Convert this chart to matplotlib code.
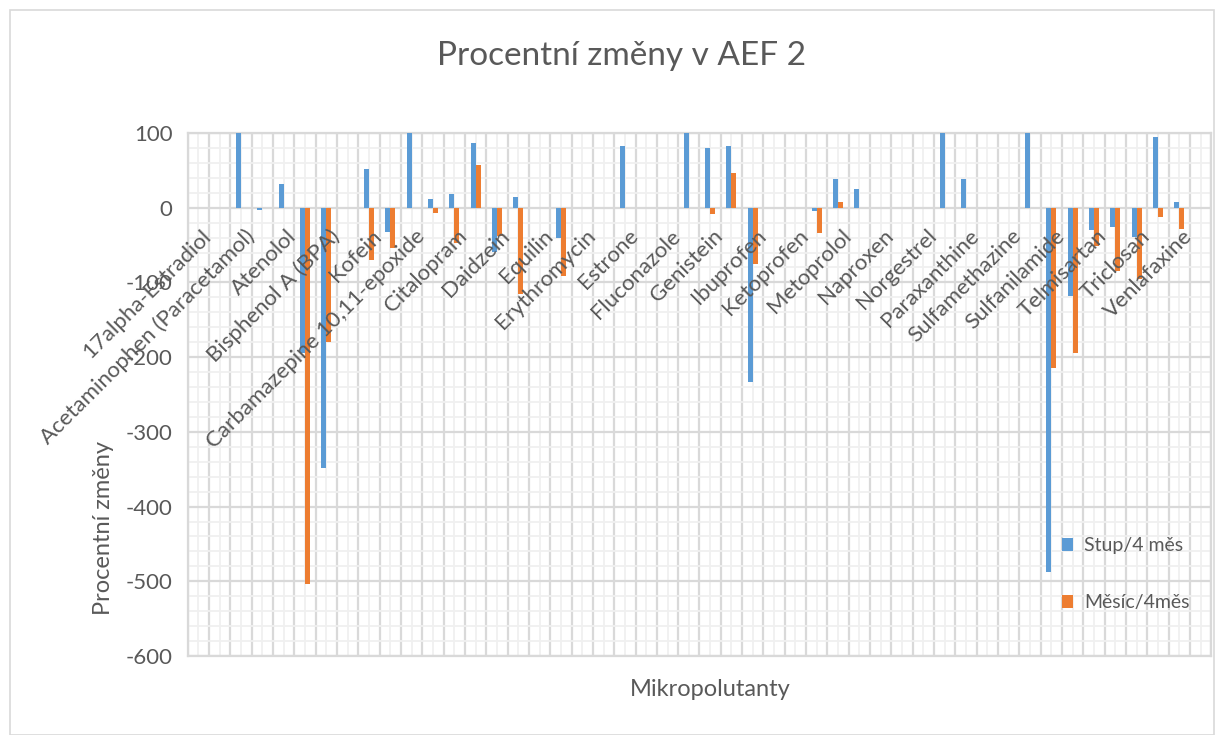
import numpy as np
import matplotlib
matplotlib.use("Agg")
import matplotlib.pyplot as plt
from matplotlib.patches import Rectangle

plt.rcParams['font.family'] = ['Lato', 'DejaVu Sans']
plt.rcParams['axes.unicode_minus'] = False

# visible category labels (Excel shows every second category)
labels = ['17alpha-Estradiol', 'Acetaminophen (Paracetamol)', 'Atenolol',
          'Bisphenol A (BPA)', 'Kofein', 'Carbamazepine 10,11-epoxide',
          'Citalopram', 'Daidzein', 'Equilin', 'Erythromycin', 'Estrone',
          'Fluconazole', 'Genistein', 'Ibuprofen', 'Ketoprofen', 'Metoprolol',
          'Naproxen', 'Norgestrel', 'Paraxanthine', 'Sulfamethazine',
          'Sulfanilamide', 'Telmisartan', 'Triclosan', 'Venlafaxine']
n_cat = 48
nan = np.nan

stup = [nan, nan, 100, -3, 32, -195, -348, nan, 52, -33,
        100, 11, 18, 87, -59, 15, nan, -40, nan, nan,
        82, nan, nan, 100, 80, 82, -233, nan, nan, -4,
        38, 25, nan, nan, nan, 100, 38, nan, nan, 100,
        -488, -118, -30, -26, -39, 95, 8, nan]
mesic = [nan, nan, nan, nan, nan, -503, -180, nan, -70, -54,
         nan, -7, -47, 57, -38, -115, nan, -91, nan, nan,
         nan, nan, nan, nan, -8, 47, -75, nan, nan, -34,
         7, nan, nan, nan, nan, nan, nan, nan, nan, nan,
         -214, -194, -51, -85, -95, -12, -28, nan]

txt = '#595959'
W, H = 1223, 735
fig = plt.figure(figsize=(W / 100, H / 100), dpi=100)
fig.patches.append(Rectangle((10 / W, 0), 1204 / W, 725 / H, transform=fig.transFigure,
                             fill=False, edgecolor='#d9d9d9', lw=1.2))

ax = fig.add_axes([187.7 / W, 1 - 656 / H, (1211.3 - 187.7) / W, (656 - 133) / H])
x = np.arange(n_cat)
w = 0.235
ax.bar(x - w / 2, stup, w, color='#5B9BD5', label='Stup/4 měs', zorder=3)
ax.bar(x + w / 2, mesic, w, color='#ED7D31', label='Měsíc/4měs', zorder=3)

ax.set_xlim(-0.5, n_cat - 0.5)
ax.set_ylim(-600, 100)
ax.set_xticks(np.arange(-0.5, n_cat, 1))
ax.set_xticks(x, minor=True)
ax.set_yticks(np.arange(-600, 101, 100))
ax.set_yticks(np.arange(-600, 101, 20), minor=True)
ax.grid(which='minor', color='#f0f0f0', lw=1.3, zorder=0)
ax.grid(which='major', color='#d9d9d9', lw=1.6, zorder=1)
ax.set_axisbelow(True)
ax.tick_params(which='both', length=0)
ax.tick_params(axis='x', labelbottom=False)
ax.tick_params(axis='y', labelsize=16, labelcolor=txt, pad=11)
for s in ax.spines.values():
    s.set_color('#d9d9d9')
    s.set_linewidth(1.6)

for i, name in enumerate(labels):
    ax.annotate(name, xy=(2 * i, 0), xytext=(2, -13), textcoords='offset points',
                rotation=45, ha='right', va='top', rotation_mode='anchor',
                fontsize=16, color=txt, annotation_clip=False, zorder=5)

fig.text(622 / W, 1 - 56 / H, 'Procentní změny v AEF 2', ha='center', va='center',
         fontsize=24, color=txt)
fig.text(103 / W, 1 - 528 / H, 'Procentní změny', ha='center', va='center',
         rotation=90, fontsize=17, color=txt)
fig.text(710 / W, 1 - 690 / H, 'Mikropolutanty', ha='center', va='center',
         fontsize=17, color=txt)

ax.legend(loc='upper left', bbox_to_anchor=(1044 / W, 1 - 520 / H),
          bbox_transform=fig.transFigure, frameon=False, fontsize=14,
          handlelength=0.6, handleheight=0.6, handletextpad=0.55,
          labelspacing=2.05, labelcolor=txt)

fig.savefig('out.png', dpi=100)
